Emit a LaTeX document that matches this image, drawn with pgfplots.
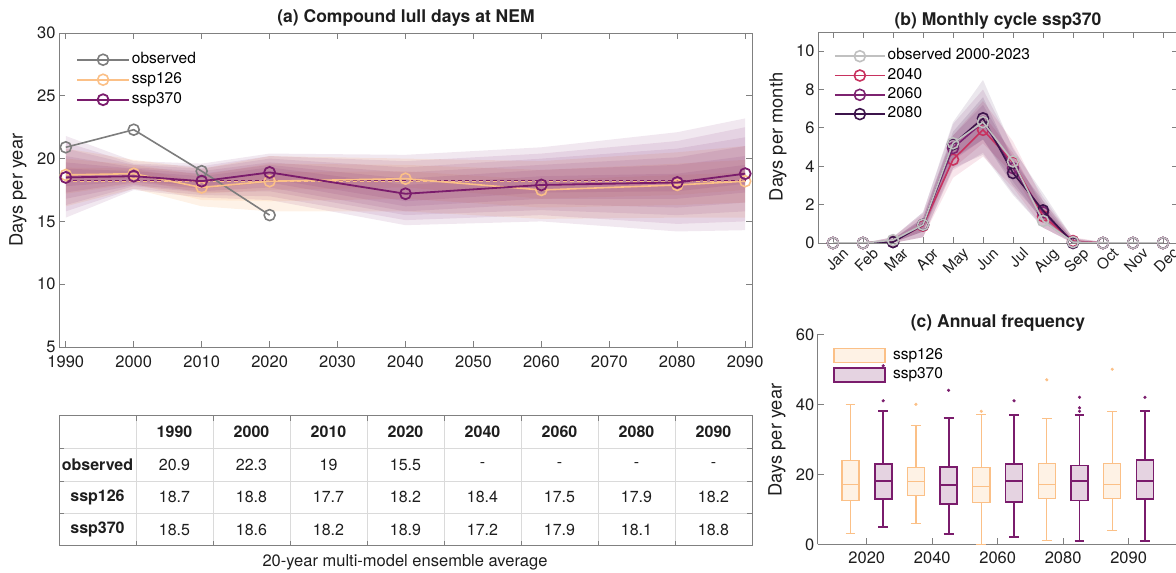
\documentclass[border=0pt]{standalone}
\usepackage{pgfplots}
\pgfplotsset{compat=1.18}
\usepgfplotslibrary{statistics}
\usepackage{fontspec}
\setmainfont{TeX Gyre Heros}

\definecolor{obs}{RGB}{125,125,125}
\definecolor{sspA}{RGB}{251,192,135}
\definecolor{sspB}{RGB}{122,28,108}
\definecolor{obsL}{RGB}{192,192,192}
\definecolor{cFour}{RGB}{200,50,95}
\definecolor{cSix}{RGB}{125,35,112}
\definecolor{cEight}{RGB}{60,20,75}
\definecolor{axgray}{RGB}{128,128,128}
\definecolor{txt}{RGB}{30,30,30}
\definecolor{boxAfill}{RGB}{254,242,229}
\definecolor{boxBfill}{RGB}{229,211,225}
\definecolor{gridl}{RGB}{218,218,218}

\newcommand\tickfont{\fontsize{16.5}{18}\selectfont}
\newcommand\monfont{\fontsize{15}{16}\selectfont}
\newcommand\labfont{\fontsize{18.3}{20}\selectfont}
\newcommand\titfont{\fontsize{17.5}{20}\selectfont\bfseries}
\newcommand\legfont{\fontsize{15.5}{17}\selectfont}
\newcommand\tabfont{\fontsize{16}{18}\selectfont}

\pgfplotsset{
  myaxis/.style={
    scale only axis, anchor=south west,
    axis line style={axgray, line width=0.9pt},
    tick style={axgray, line width=0.9pt},
    major tick length=6pt,
    tick align=inside,
    ticklabel style={font=\tickfont, text=txt},
    /pgf/number format/assume math mode=true,
    /pgf/number format/1000 sep={},
    clip mode=individual,
    legend cell align=left,
  },
  boxA/.style={forget plot, draw=sspA, line width=1.3pt, solid, boxplot/every box/.style={fill=boxAfill}},
  boxB/.style={forget plot, draw=sspB, line width=1.8pt, solid, boxplot/every box/.style={fill=boxBfill}},
  bandB/.style={forget plot, draw=none, fill=sspB, fill opacity=0.1},
  bandA/.style={forget plot, draw=none, fill=sspA, fill opacity=0.2},
}

\begin{document}
\begin{tikzpicture}
% ================= Panel (a)
\begin{axis}[myaxis, at={(59pt,226pt)}, width=693pt, height=314pt,
  xmin=1989, xmax=2091, ymin=5, ymax=30,
  xtick={1990,2000,2010,2020,2030,2040,2050,2060,2070,2080,2090},
  ytick={5,10,15,20,25,30},
  xticklabel style={yshift=-5pt},
  legend image code/.code={\draw[mark repeat=2,mark phase=2,#1] plot coordinates {(0pt,0pt) (26pt,0pt) (52pt,0pt)};},
  legend style={at={(axis description cs:0.0245,0.945)}, anchor=north west, draw=none, fill=none, font=\legfont, inner sep=0pt, row sep=1.5pt, nodes={inner sep=2pt, text height=11pt, text depth=3.5pt}},
]
% ssp126 bands
\addplot[bandA] coordinates {(1990,20.8)(2000,19.9)(2010,19.2)(2020,20.2)(2040,20.0)(2060,19.8)(2080,20.5)(2090,21.0)(2090,15.3)(2080,15.3)(2060,15.2)(2040,15.8)(2020,15.8)(2010,16.2)(2000,17.6)(1990,16.2)} -- cycle;
\addplot[bandA] coordinates {(1990,20.0)(2000,19.5)(2010,18.7)(2020,19.6)(2040,19.5)(2060,19.1)(2080,19.6)(2090,19.9)(2090,16.5)(2080,16.3)(2060,16.1)(2040,16.8)(2020,16.6)(2010,16.7)(2000,18.0)(1990,17.2)} -- cycle;
\addplot[bandA] coordinates {(1990,19.3)(2000,19.2)(2010,18.2)(2020,18.9)(2040,19.0)(2060,18.3)(2080,18.7)(2090,18.9)(2090,17.5)(2080,17.1)(2060,16.8)(2040,17.7)(2020,17.5)(2010,17.2)(2000,18.4)(1990,18.1)} -- cycle;
% ssp370 bands
\addplot[bandB] coordinates {(1990,21.8)(2000,19.8)(2010,19.6)(2020,20.4)(2040,20.3)(2060,20.9)(2080,22.1)(2090,23.2)(2090,14.3)(2080,14.2)(2060,15.0)(2040,14.7)(2020,16.7)(2010,16.9)(2000,17.5)(1990,15.3)} -- cycle;
\addplot[bandB] coordinates {(1990,21.3)(2000,19.6)(2010,19.4)(2020,20.2)(2040,19.8)(2060,20.4)(2080,21.4)(2090,22.5)(2090,15.0)(2080,14.8)(2060,15.5)(2040,15.1)(2020,17.0)(2010,17.1)(2000,17.6)(1990,15.8)} -- cycle;
\addplot[bandB] coordinates {(1990,20.8)(2000,19.5)(2010,19.2)(2020,20.0)(2040,19.3)(2060,20.0)(2080,20.8)(2090,21.7)(2090,15.8)(2080,15.5)(2060,15.9)(2040,15.5)(2020,17.4)(2010,17.3)(2000,17.8)(1990,16.3)} -- cycle;
\addplot[bandB] coordinates {(1990,20.2)(2000,19.3)(2010,19.0)(2020,19.7)(2040,18.9)(2060,19.5)(2080,20.1)(2090,21.0)(2090,16.5)(2080,16.1)(2060,16.4)(2040,15.8)(2020,17.7)(2010,17.4)(2000,17.9)(1990,16.8)} -- cycle;
\addplot[bandB] coordinates {(1990,19.7)(2000,19.2)(2010,18.8)(2020,19.5)(2040,18.4)(2060,19.1)(2080,19.5)(2090,20.2)(2090,17.3)(2080,16.8)(2060,16.8)(2040,16.2)(2020,18.1)(2010,17.6)(2000,18.1)(1990,17.3)} -- cycle;
\addplot[bandB] coordinates {(1990,19.2)(2000,19.0)(2010,18.6)(2020,19.3)(2040,17.9)(2060,18.6)(2080,18.8)(2090,19.5)(2090,18.0)(2080,17.4)(2060,17.3)(2040,16.6)(2020,18.4)(2010,17.8)(2000,18.2)(1990,17.8)} -- cycle;
% reference means
\addplot[forget plot, sspA, line width=0.8pt, dash pattern=on 4pt off 3pt] coordinates {(1990,18.18)(2090,18.18)};
\addplot[forget plot, sspB, line width=0.8pt, dash pattern=on 4pt off 3pt] coordinates {(1990,18.28)(2090,18.28)};
% lines
\addplot[obs, line width=1.6pt, mark=o, mark size=5.5pt, mark options={line width=1.6pt}] coordinates {(1990,20.9)(2000,22.3)(2010,19)(2020,15.5)};
\addlegendentry{observed}
\addplot[sspA, line width=1.6pt, mark=o, mark size=5.5pt, mark options={line width=1.6pt}] coordinates {(1990,18.7)(2000,18.8)(2010,17.7)(2020,18.2)(2040,18.4)(2060,17.5)(2080,17.9)(2090,18.2)};
\addlegendentry{ssp126}
\addplot[sspB, line width=1.8pt, mark=o, mark size=5.5pt, mark options={line width=1.8pt}] coordinates {(1990,18.5)(2000,18.6)(2010,18.2)(2020,18.9)(2040,17.2)(2060,17.9)(2080,18.1)(2090,18.8)};
\addlegendentry{ssp370}
\end{axis}

% ================= Panel (b)
\begin{axis}[myaxis, at={(818pt,330pt)}, width=360pt, height=211pt,
  xmin=0.5, xmax=12.5, ymin=0, ymax=11,
  xtick={1,2,3,4,5,6,7,8,9,10,11,12},
  xticklabels={Jan,Feb,Mar,Apr,May,Jun,Jul,Aug,Sep,Oct,Nov,Dec},
  ytick={0,2,4,6,8,10},
  xticklabel style={font=\monfont, rotate=45, anchor=north east, inner sep=0.5pt, yshift=-8pt, xshift=4pt},
  legend image code/.code={\draw[mark repeat=2,mark phase=2,#1] plot coordinates {(0pt,0pt) (25pt,0pt) (50pt,0pt)};},
  legend style={at={(axis description cs:0.044,0.93)}, anchor=north west, draw=none, fill=none, font=\legfont, inner sep=0pt, row sep=0.8pt, nodes={inner sep=2pt, text height=11pt, text depth=3.5pt}},
]
% bands
\addplot[forget plot, draw=none, fill=cFour, fill opacity=0.12] coordinates {(2,0)(3,0.3)(4,1.5)(5,5.6)(6,7.4)(7,5.3)(8,2.2)(9,0.3)(10,0.05)(11,0)(10,0)(9,0)(8,0.8)(7,2.9)(6,4.5)(5,3.4)(4,0.3)(3,0)} -- cycle;
\addplot[forget plot, draw=none, fill=cFour, fill opacity=0.14] coordinates {(2,0)(3,0.2)(4,1.2)(5,5.0)(6,6.7)(7,4.7)(8,1.8)(9,0.2)(10,0)(9,0)(8,1.1)(7,3.6)(6,5.2)(5,3.9)(4,0.6)(3,0.05)} -- cycle;
\addplot[forget plot, draw=none, fill=cSix, fill opacity=0.12] coordinates {(2,0)(3,0.3)(4,1.6)(5,6.2)(6,8.0)(7,5.0)(8,2.4)(9,0.25)(10,0.05)(11,0)(10,0)(9,0)(8,0.8)(7,2.6)(6,4.7)(5,3.8)(4,0.3)(3,0)} -- cycle;
\addplot[forget plot, draw=none, fill=cSix, fill opacity=0.14] coordinates {(2,0)(3,0.2)(4,1.3)(5,5.6)(6,7.2)(7,4.5)(8,2.0)(9,0.15)(10,0)(9,0)(8,1.1)(7,3.2)(6,5.4)(5,4.3)(4,0.6)(3,0.02)} -- cycle;
\addplot[forget plot, draw=none, fill=cEight, fill opacity=0.1] coordinates {(2,0)(3,0.3)(4,1.6)(5,6.3)(6,8.5)(7,4.9)(8,2.6)(9,0.25)(10,0.05)(11,0)(10,0)(9,0)(8,0.8)(7,2.5)(6,4.6)(5,3.9)(4,0.3)(3,0)} -- cycle;
\addplot[forget plot, draw=none, fill=cEight, fill opacity=0.12] coordinates {(2,0)(3,0.2)(4,1.3)(5,5.8)(6,7.6)(7,4.3)(8,2.2)(9,0.15)(10,0)(9,0)(8,1.2)(7,3.0)(6,5.4)(5,4.4)(4,0.6)(3,0.02)} -- cycle;
% lines (legend order: observed, 2040, 2060, 2080)
\addlegendimage{obsL, line width=1.6pt, mark=o, mark size=5.5pt, mark options={line width=1.6pt}}
\addlegendentry{observed 2000-2023}
\addplot[cFour, line width=1.6pt, mark=o, mark size=5.5pt, mark options={line width=1.6pt}] coordinates {(1,0)(2,0)(3,0.1)(4,0.9)(5,4.35)(6,5.9)(7,4.2)(8,1.4)(9,0.1)(10,0)(11,0)(12,0)};
\addlegendentry{2040}
\addplot[cSix, line width=1.6pt, mark=o, mark size=5.5pt, mark options={line width=1.6pt}] coordinates {(1,0)(2,0)(3,0.05)(4,0.95)(5,4.95)(6,6.3)(7,3.9)(8,1.6)(9,0.05)(10,0)(11,0)(12,0)};
\addlegendentry{2060}
\addplot[cEight, line width=1.6pt, mark=o, mark size=5.5pt, mark options={line width=1.6pt}] coordinates {(1,0)(2,0)(3,0.05)(4,0.95)(5,5.15)(6,6.5)(7,3.65)(8,1.7)(9,0)(10,0)(11,0)(12,0)};
\addlegendentry{2080}
\addplot[forget plot, obsL, line width=1.6pt, mark=o, mark size=5.5pt, mark options={line width=1.6pt}] coordinates {(1,0)(2,0)(3,0.15)(4,0.95)(5,5.2)(6,6.3)(7,4.25)(8,1.15)(9,0.05)(10,0)(11,0)(12,0)};
\end{axis}

% ================= Panel (c)
\begin{axis}[myaxis, at={(817.7pt,28.7pt)}, width=360pt, height=210pt,
  xmin=0.25, xmax=5.75, ymin=0, ymax=60,
  axis lines*=left,
  xtick={1,2,3,4,5}, xticklabels={2020,2040,2060,2080,2090},
  ytick={0,20,40,60},
  xticklabel style={yshift=-4pt},
  boxplot/draw direction=y,
  boxplot/box extend=0.26, boxplot/whisker extend=0.15,
  legend style={at={(axis description cs:0.0425,0.944)}, anchor=north west, draw=none, fill=none, font=\legfont, inner sep=0pt, row sep=1pt, nodes={inner sep=2pt, text height=11pt, text depth=3.5pt}, /tikz/every odd column/.append style={column sep=5pt}},
]
\addplot[boxA, boxplot prepared={draw position=0.75, lower whisker=3, lower quartile=12.5, median=17, upper quartile=24, upper whisker=40}] coordinates {};
\addplot[boxB, boxplot prepared={draw position=1.25, lower whisker=5, lower quartile=13, median=18, upper quartile=23, upper whisker=38}] coordinates {};
\addplot[boxA, boxplot prepared={draw position=1.75, lower whisker=6, lower quartile=14, median=18, upper quartile=22, upper whisker=34}] coordinates {};
\addplot[boxB, boxplot prepared={draw position=2.25, lower whisker=3, lower quartile=11.5, median=17, upper quartile=22, upper whisker=36}] coordinates {};
\addplot[boxA, boxplot prepared={draw position=2.75, lower whisker=0, lower quartile=12, median=16.5, upper quartile=22, upper whisker=37}] coordinates {};
\addplot[boxB, boxplot prepared={draw position=3.25, lower whisker=2, lower quartile=12, median=18, upper quartile=23, upper whisker=37}] coordinates {};
\addplot[boxA, boxplot prepared={draw position=3.75, lower whisker=1, lower quartile=13, median=17, upper quartile=23, upper whisker=36}] coordinates {};
\addplot[boxB, boxplot prepared={draw position=4.25, lower whisker=1, lower quartile=12.5, median=18, upper quartile=22.5, upper whisker=37}] coordinates {};
\addplot[boxA, boxplot prepared={draw position=4.75, lower whisker=4, lower quartile=13, median=17, upper quartile=23, upper whisker=38}] coordinates {};
\addplot[boxB, boxplot prepared={draw position=5.25, lower whisker=1, lower quartile=13, median=18, upper quartile=24, upper whisker=38}] coordinates {};
\addplot[forget plot, only marks, mark=*, mark size=1.4pt, sspA] coordinates {(1.75,40)(2.75,38)(3.75,47)(4.75,50)};
\addplot[forget plot, only marks, mark=*, mark size=1.4pt, sspB] coordinates {(1.25,41)(1.25,51)(2.25,44)(3.25,41)(4.25,42)(4.25,39)(4.25,38)(5.25,42)};
\addlegendimage{legend image code/.code={\draw[draw=sspA, fill=boxAfill, line width=1.3pt] (0pt,-7pt) rectangle (51pt,7pt);}}
\addlegendentry{ssp126}
\addlegendimage{legend image code/.code={\draw[draw=sspB, fill=boxBfill, line width=1.8pt] (0pt,-7pt) rectangle (51pt,7pt);}}
\addlegendentry{ssp370}
\end{axis}

\begin{scope}[x=1pt,y=1pt]
% ================= titles and labels
\node[font=\titfont, text=txt] at (406,555) {(a) Compound lull days at NEM};
\node[font=\titfont, text=txt] at (998,552) {(b) Monthly cycle ssp370};
\node[font=\titfont, text=txt] at (998,250) {(c) Annual frequency};
\node[font=\labfont, text=txt, rotate=90] at (18,383) {Days per year};
\node[font=\labfont, text=txt, rotate=90] at (778,436) {Days per month};
\node[font=\labfont, text=txt, rotate=90] at (777,133) {Days per year};

% ================= table
\foreach \xx in {136,213,290,367,444,521,598,675} {
  \draw[gridl, line width=0.8pt] (\xx,27) -- (\xx,157);
  \draw[axgray, line width=0.9pt] (\xx,157) -- (\xx,152);
  \draw[axgray, line width=0.9pt] (\xx,27) -- (\xx,32);
}
\foreach \yy in {124.5,92,59.5} {
  \draw[gridl, line width=0.8pt] (59,\yy) -- (752,\yy);
  \draw[axgray, line width=0.9pt] (59,\yy) -- (64,\yy);
  \draw[axgray, line width=0.9pt] (752,\yy) -- (747,\yy);
}
\draw[axgray, line width=1pt] (59,27) rectangle (752,157);
\foreach \lab [count=\i from 0] in {1990,2000,2010,2020,2040,2060,2080,2090} {
  \node[font=\tabfont\bfseries, text=txt] at (174.5+77*\i,140.75) {\lab};
}
\node[font=\tabfont\bfseries, text=txt] at (97.5,108.25) {observed};
\node[font=\tabfont\bfseries, text=txt] at (97.5,75.75) {ssp126};
\node[font=\tabfont\bfseries, text=txt] at (97.5,43.25) {ssp370};
\foreach \v [count=\i from 0] in {20.9,22.3,19,15.5,-,-,-,-} {
  \node[font=\tabfont, text=txt] at (174.5+77*\i,108.25) {\v};
}
\foreach \v [count=\i from 0] in {18.7,18.8,17.7,18.2,18.4,17.5,17.9,18.2} {
  \node[font=\tabfont, text=txt] at (174.5+77*\i,75.75) {\v};
}
\foreach \v [count=\i from 0] in {18.5,18.6,18.2,18.9,17.2,17.9,18.1,18.8} {
  \node[font=\tabfont, text=txt] at (174.5+77*\i,43.25) {\v};
}
\node[font=\tickfont, text=txt] at (405,11) {20-year multi-model ensemble average};

\pgfresetboundingbox
\useasboundingbox (0,0) rectangle (1176,573);
\end{scope}
\end{tikzpicture}
\end{document}
